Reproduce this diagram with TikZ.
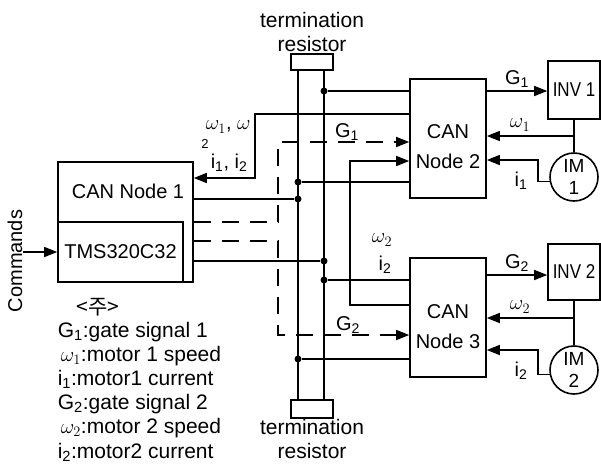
\documentclass[tikz,border=0pt]{standalone}
\usepackage{graphicx}
\usepackage{fontspec}
\setmainfont{Liberation Sans}
\newfontfamily\krfont{Noto Sans CJK KR}
\usetikzlibrary{arrows.meta,calc}

\begin{document}
\begin{tikzpicture}[x=1pt, y=-1pt, line width=1.6pt,
    font=\fontsize{20}{24}\selectfont,
    blk/.style={draw, inner sep=0pt},
    sig/.style={-{Triangle[length=13pt,width=10pt]}},
    dsig/.style={sig, dash pattern=on 17pt off 11pt},
    tap/.style={fill, circle, inner sep=0pt, minimum size=7pt}]
  \useasboundingbox (0,0) rectangle (601,464);

  % CAN nodes
  \node[blk, minimum width=135pt, minimum height=120pt] (node1) at (125.5,222) {};
  \node (lab1) at (128,191) {CAN Node 1};
  \node[blk, minimum width=125pt, minimum height=60pt] (tms) at (120.5,252) {TMS320C32};
  \node[blk, minimum width=76pt, minimum height=119pt] (node2) at (448,138.5) {};
  \node[align=center, font=\fontsize{20}{30}\selectfont] (lab2) at (448,147) {CAN\\Node 2};
  \node[blk, minimum width=76pt, minimum height=119pt] (node3) at (448,317.5) {};
  \node[align=center, font=\fontsize{20}{30}\selectfont] (lab3) at (448,327) {CAN\\Node 3};

  % inverters and motors
  \node[blk, minimum width=52pt, minimum height=58pt] (inv1) at (574,90) {\scalebox{0.85}[1]{INV 1}};
  \node[blk, minimum width=52pt, minimum height=56pt] (inv2) at (574,272) {\scalebox{0.85}[1]{INV 2}};
  \node[draw, circle, minimum size=48pt, inner sep=0pt, align=center,
        font=\fontsize{19}{22}\selectfont] (im1) at (574,177) {IM\\1};
  \node[draw, circle, minimum size=48pt, inner sep=0pt, align=center,
        font=\fontsize{19}{22}\selectfont] (im2) at (574,370) {IM\\2};

  % bus with termination resistors
  \node[blk, minimum width=42pt, minimum height=16pt] (rtop) at (312,62) {};
  \node[blk, minimum width=42pt, minimum height=18pt] (rbot) at (312,409) {};
  \node[align=center, font=\fontsize{21}{24}\selectfont] (rtoplab) at (312,32) {termination\\resistor};
  \node[align=center, font=\fontsize{21}{24}\selectfont] (rbotlab) at (312,439) {termination\\resistor};
  \coordinate (busA) at (298,0);
  \coordinate (busB) at (324,0);
  \draw (rtop.south -| busA) -- (rbot.north -| busA);
  \draw (rtop.south -| busB) -- (rbot.north -| busB);

  \foreach \b/\y/\n in {busB/91/t1, busA/182/t2, busA/199/t3, busB/261/t4, busB/280/t5, busA/359/t6}
    \path (\b) ++(0,\y) node[tap] (\n) {};
  \draw (t1) -- (t1 -| node2.west);
  \draw (t2) -- (t2 -| node2.west);
  \draw (t3) -- (t3 -| node1.east);
  \draw (t4) -- (t4 -| node1.east);
  \draw (t5) -- (t5 -| node3.west);
  \draw (t6) -- (t6 -| node3.west);

  % speed and current signals
  \coordinate (c1) at (255,114);
  \coordinate (c2) at (255,178);
  \draw[sig] (c1 -| node2.west) -- (c1) -- (c2) -- (c2 -| node1.east);
  \coordinate (c3) at (350,305);
  \coordinate (c4) at (350,161);
  \draw[sig] (c3 -| node3.west) -- (c3) -- (c4) -- (c4 -| node2.west);

  % gate signals
  \coordinate (g1a) at (278,222);
  \coordinate (g1b) at (278,142);
  \draw[dsig] (g1a -| node1.east) -- (g1a) -- (g1b) -- (g1b -| node2.west);
  \coordinate (g2a) at (278,241);
  \coordinate (g2b) at (278,335);
  \draw[dsig] (g2a -| node1.east) -- (g2a) -- (g2b) -- (g2b -| node3.west);
  \coordinate (g2c) at (500,275);
  \draw[sig] (t1 -| node2.east) -- (t1 -| inv1.west);
  \draw[sig] (g2c -| node3.east) -- (g2c -| inv2.west);

  % motor feedback
  \coordinate (w1) at (574,136);
  \coordinate (k1) at (538,160);
  \draw (inv1.south) -- (im1.north);
  \draw[sig] (w1) -- (w1 -| node2.east);
  \draw[sig] (im1.190) -| (k1) -- (k1 -| node2.east);
  \coordinate (w2) at (574,318);
  \coordinate (k2) at (538,350);
  \draw (inv2.south) -- (im2.north);
  \draw[sig] (w2) -- (w2 -| node3.east);
  \draw[sig] (im2.190) -| (k2) -- (k2 -| node3.east);

  \node[rotate=90, inner sep=0pt] (cmd) at (15,261) {Commands};
  \draw[sig] (cmd.south |- tms.west) -- (tms.west);

  % signal labels
  \node (lg1) at (517,79) {G\textsubscript{1}};
  \node (lw1) at (520,125) {$\omega_1$};
  \node (li1) at (521,181) {i\textsubscript{1}};
  \node (lg2) at (517,263) {G\textsubscript{2}};
  \node (lw2) at (520,307) {$\omega_2$};
  \node (li2) at (521,371) {i\textsubscript{2}};
  \node (dg1) at (347,132) {G\textsubscript{1}};
  \node (dg2) at (348,325) {G\textsubscript{2}};
  \node (mw2) at (382,240) {$\omega_2$};
  \node (mi2) at (385,265) {i\textsubscript{2}};
  \node[anchor=west, inner sep=0pt] (bw) at (205,127) {$\omega_1$, $\omega$};
  \node[font=\fontsize{13}{13}\selectfont] (b2) at (205,144) {2};
  \node[anchor=west, inner sep=0pt] (bi) at (210,163) {i\textsubscript{1}, i\textsubscript{2}};

  % legend
  \node[font=\fontsize{21}{21}\selectfont] (note) at (98,307) {\krfont <주>};
  \node[anchor=north west, align=left, inner sep=0pt,
        font=\fontsize{21}{24.2}\selectfont] (legend) at (57,321)
    {G\textsubscript{1}:gate signal 1\\
     \hspace*{3pt}$\omega_1$:motor 1 speed\\
     i\textsubscript{1}:motor1 current\\
     G\textsubscript{2}:gate signal 2\\
     \hspace*{3pt}$\omega_2$:motor 2 speed\\
     i\textsubscript{2}:motor2 current};
\end{tikzpicture}
\end{document}
